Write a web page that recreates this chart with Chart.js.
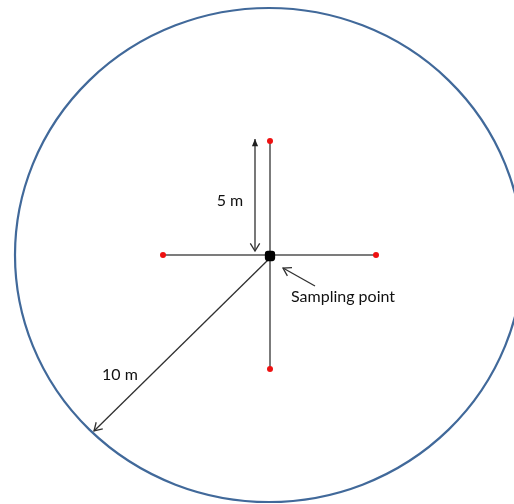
<!DOCTYPE html>
<html>
<head>
<meta charset="utf-8">
<script src="https://cdn.jsdelivr.net/npm/chart.js@4/dist/chart.umd.min.js"></script>
<style>
    html, body { margin: 0; padding: 0; background: #fff; overflow: hidden; }
    #wrap { width: 514px; height: 504px; }
</style>
</head>
<body>
<div id="wrap"><canvas id="diagram" width="514" height="504"></canvas></div>
<script>
// Diagram data (page coordinates, y grows downward)
const crossHorizontal = [{ x: 163, y: 255 }, { x: 376, y: 255 }];
const crossVertical = [{ x: 270, y: 141 }, { x: 270, y: 369 }];
const samplePoints = [{ x: 270, y: 141 }, { x: 163, y: 255 }, { x: 376, y: 255 }, { x: 270, y: 369 }];
const centerPoint = [{ x: 270, y: 256 }];

// arrows: from -> to (tip)
const arrow5m = [{ x: 255, y: 251 }, { x: 255, y: 139 }];
const arrow10m = [{ x: 270, y: 258 }, { x: 94, y: 431 }];
const arrowSampling = [{ x: 315, y: 286 }, { x: 283, y: 268 }];

// outer circle: centre and radii
const circleCenter = [269, 255];
const circleRadii = [254, 247];

// labels
const labelTexts = ['5 m', '10 m', 'Sampling point'];
const labelPos = [{ x: 230, y: 201 }, { x: 120, y: 375 }, { x: 291, y: 297 }];
const labelAlign = ['center', 'center', 'left'];

const lineColor = '#505050';

// ============================================
// Plugins
// ============================================

const circlePlugin = {
    id: 'outerCircle',
    beforeDatasetsDraw(chart) {
        const ctx = chart.ctx;
        const xs = chart.scales.x, ys = chart.scales.y;
        const cx = xs.getPixelForValue(circleCenter[0]);
        const cy = ys.getPixelForValue(circleCenter[1]);
        const rx = Math.abs(xs.getPixelForValue(circleCenter[0] + circleRadii[0]) - cx);
        const ry = Math.abs(ys.getPixelForValue(circleCenter[1] + circleRadii[1]) - cy);
        ctx.save();
        ctx.beginPath();
        ctx.ellipse(cx, cy, rx, ry, 0, 0, Math.PI * 2);
        ctx.strokeStyle = '#41699A';
        ctx.lineWidth = 2.2;
        ctx.stroke();
        ctx.restore();
    }
};

function drawHead(ctx, from, to, filled) {
    const ang = Math.atan2(to.y - from.y, to.x - from.x);
    const len = filled ? 8 : 9;
    const spread = filled ? 0.4 : 0.55;
    const p1 = { x: to.x - len * Math.cos(ang - spread), y: to.y - len * Math.sin(ang - spread) };
    const p2 = { x: to.x - len * Math.cos(ang + spread), y: to.y - len * Math.sin(ang + spread) };
    ctx.beginPath();
    ctx.moveTo(p1.x, p1.y);
    ctx.lineTo(to.x, to.y);
    ctx.lineTo(p2.x, p2.y);
    if (filled) {
        ctx.closePath();
        ctx.fill();
    } else {
        ctx.stroke();
    }
}

const arrowPlugin = {
    id: 'arrowHeads',
    afterDatasetsDraw(chart) {
        const ctx = chart.ctx;
        const xs = chart.scales.x, ys = chart.scales.y;
        const px = p => ({ x: xs.getPixelForValue(p.x), y: ys.getPixelForValue(p.y) });
        ctx.save();
        ctx.strokeStyle = '#303030';
        ctx.fillStyle = '#202020';
        ctx.lineWidth = 1.3;
        // 5 m arrow: filled head at top, open head at bottom
        drawHead(ctx, px(arrow5m[0]), px(arrow5m[1]), true);
        drawHead(ctx, px(arrow5m[1]), px(arrow5m[0]), false);
        drawHead(ctx, px(arrow10m[0]), px(arrow10m[1]), false);
        drawHead(ctx, px(arrowSampling[0]), px(arrowSampling[1]), false);

        ctx.fillStyle = '#111';
        ctx.font = '16px Lato, "Open Sans", sans-serif';
        ctx.textBaseline = 'middle';
        for (let i = 0; i < labelTexts.length; i++) {
            const p = px(labelPos[i]);
            ctx.textAlign = labelAlign[i];
            ctx.fillText(labelTexts[i], p.x, p.y);
        }
        ctx.restore();
    }
};

// ============================================
// Chart
// ============================================

function segment(data, color, width) {
    return {
        type: 'scatter',
        data: data,
        showLine: true,
        borderColor: color,
        borderWidth: width,
        pointRadius: 0,
        fill: false,
        clip: false
    };
}

const ctx = document.getElementById('diagram').getContext('2d');
new Chart(ctx, {
    type: 'scatter',
    data: {
        datasets: [
            {
                data: centerPoint,
                pointStyle: 'rectRounded',
                pointRadius: 6,
                backgroundColor: '#000',
                borderColor: '#000',
                borderWidth: 0
            },
            {
                data: samplePoints,
                pointRadius: 3,
                backgroundColor: '#EE1111',
                borderColor: '#EE1111',
                borderWidth: 0
            },
            segment(crossHorizontal, lineColor, 1.5),
            segment(crossVertical, lineColor, 1.5),
            segment(arrow5m, '#303030', 1.3),
            segment(arrow10m, '#303030', 1.3),
            segment(arrowSampling, '#303030', 1.3)
        ]
    },
    options: {
        responsive: false,
        animation: false,
        layout: { padding: 0, autoPadding: false },
        plugins: {
            legend: { display: false },
            tooltip: { enabled: false }
        },
        scales: {
            x: { type: 'linear', min: 0, max: 514, display: false },
            y: { type: 'linear', min: 0, max: 504, reverse: true, display: false }
        }
    },
    plugins: [circlePlugin, arrowPlugin]
});
</script>
</body>
</html>
